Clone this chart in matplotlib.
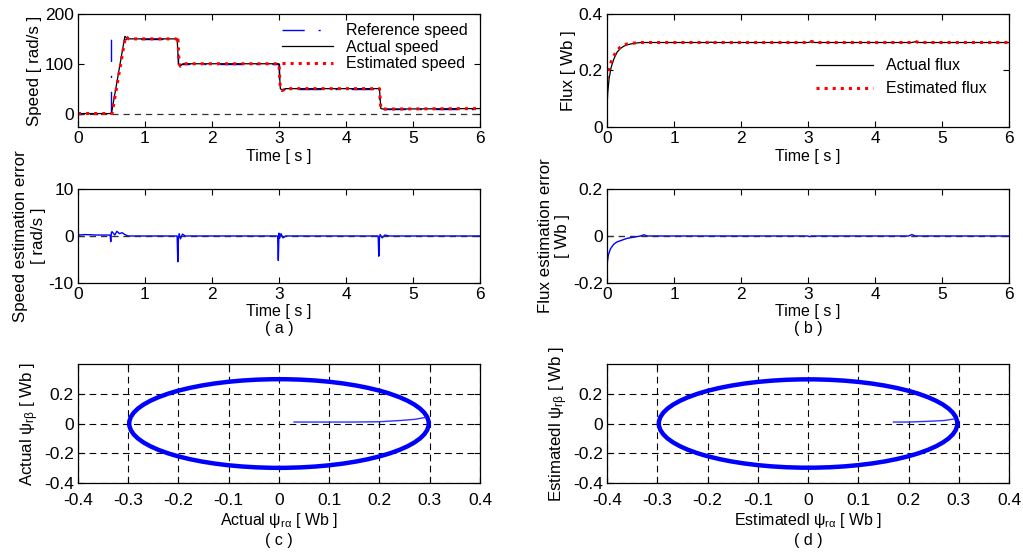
import matplotlib.pyplot as plt
import matplotlib.patches as mpatches
import numpy as np

plt.rcParams['font.family'] = ['Liberation Sans', 'DejaVu Sans']
plt.rcParams['font.size'] = 11.5
plt.rcParams['axes.unicode_minus'] = False
plt.rcParams['mathtext.fontset'] = 'custom'
plt.rcParams['mathtext.rm'] = 'Liberation Sans'
plt.rcParams['mathtext.it'] = 'Liberation Sans'

# ---- (a) speed ----
t_ref = [0, 0.5, 0.5, 1.5, 1.5, 3.0, 3.0, 4.5, 4.5, 6.0]
w_ref = [0, 0, 150, 150, 100, 100, 50, 50, 10, 10]

t_act = [0, 0.5, 0.7, 0.75, 1.48, 1.5, 1.53, 1.57, 3.0, 3.02, 3.05, 3.1, 4.5, 4.52, 4.56, 6.0]
w_act = [0, 0, 155, 150, 150, 100, 96, 100, 100, 50, 47, 50, 50, 10, 9, 10]

t_est = [0, 0.49, 0.51, 0.71, 0.76, 1.48, 1.49, 1.51, 1.53, 1.57, 2.99, 3.0, 3.02, 3.05, 3.1, 4.5, 4.52, 4.56, 6.0]
w_est = [0, 0, 1, 155, 150, 150, 155, 100, 95, 100, 100, 100, 50, 46, 50, 50, 10, 9, 10]

t_err = [0, 0.02, 0.1, 0.3, 0.48, 0.49, 0.5, 0.51, 0.55, 0.58, 0.62, 0.66, 0.7, 0.75,
         1.48, 1.49, 1.5, 1.51, 1.53, 1.56, 1.6,
         2.98, 2.99, 3.0, 3.01, 3.03, 3.06, 3.1,
         4.48, 4.49, 4.5, 4.51, 4.54, 4.58, 4.65, 6.0]
e_err = [0.6, 0.2, 0.3, 0.2, 0.2, -1.2, 0.8, 0.9, 0.2, 1.0, 0.5, 0.7, 0.3, 0,
         0, -5.5, -0.5, 0.5, -0.6, 0.4, 0,
         0, -5.2, 0.6, -0.5, 0.5, -0.4, 0,
         0, -4.3, -0.3, 0.3, -0.4, 0.2, 0, 0]

# ---- (b) flux ----
t_flux = [0, 0.01, 0.03, 0.06, 0.1, 0.15, 0.2, 0.25, 0.3, 0.4, 0.5, 1.5, 1.55, 1.6, 3.0, 3.05, 3.1, 4.55, 4.6, 4.65, 6.0]
f_act = [0.07, 0.12, 0.17, 0.21, 0.24, 0.265, 0.278, 0.286, 0.291, 0.296, 0.299, 0.299, 0.3, 0.299, 0.299, 0.302, 0.299, 0.299, 0.302, 0.299, 0.299]
f_est = [0.17, 0.19, 0.21, 0.23, 0.252, 0.272, 0.283, 0.29, 0.294, 0.297, 0.299, 0.299, 0.302, 0.299, 0.299, 0.303, 0.299, 0.299, 0.303, 0.299, 0.299]

t_ferr = [0, 0.005, 0.02, 0.05, 0.1, 0.15, 0.2, 0.25, 0.3, 0.4, 0.5, 0.55, 0.6, 3.0, 3.02, 3.05, 4.5, 4.55, 4.6, 6.0]
e_ferr = [-0.15, -0.11, -0.08, -0.055, -0.035, -0.025, -0.02, -0.015, -0.01, -0.005, 0, 0.005, 0, 0, -0.003, 0, 0, 0.006, 0, 0]

# ---- (c), (d) flux locus ----
psi_radius_act = 0.298
psi_radius_est = 0.297
init_a_act = [0.03, 0.15, 0.2, 0.24, 0.27, 0.29]
init_b_act = [0.01, 0.01, 0.012, 0.02, 0.028, 0.04]
init_a_est = [0.17, 0.2, 0.24, 0.27, 0.29]
init_b_est = [0.01, 0.01, 0.015, 0.02, 0.03]

fig = plt.figure(figsize=(10.23, 5.55), dpi=100)

L1, L2, W = 0.0762, 0.5934, 0.393
rows = [(0.7712, 0.2036), (0.4901, 0.1694), (0.1297, 0.2144)]
TICK_FS = 12.5
LAB_FS = 11.5
YLAB_FS = 12.2


def style(ax, xpad=3):
    ax.tick_params(direction='in', top=True, right=True, length=4, labelsize=TICK_FS, pad=3)
    ax.tick_params(axis='x', pad=xpad)
    for s in ax.spines.values():
        s.set_linewidth(0.9)


zero_kw = dict(color='#333333', lw=0.9, dashes=(5, 4))

# speed
ax = fig.add_axes([L1, rows[0][0], W, rows[0][1]])
ax.axhline(0, **zero_kw)
ax.plot(t_ref, w_ref, color='#0000ff', lw=1.0, linestyle=(13.4, (16, 10, 1.5, 10)), label='Reference speed')
ax.plot(t_act, w_act, color='black', lw=0.9, label='Actual speed')
ax.plot(t_est, w_est, color='red', lw=2.2, linestyle=':', label='Estimated speed')
ax.set_xlim(0, 6)
ax.set_ylim(-27, 200)
ax.set_yticks([0, 100, 200])
ax.set_xlabel('Time [ s ]', fontsize=LAB_FS, labelpad=2)
ax.set_ylabel('Speed [ rad/s ]', fontsize=YLAB_FS, labelpad=2)
leg = ax.legend(loc='upper right', frameon=False, fontsize=LAB_FS, handlelength=3.2,
                borderaxespad=0.1, labelspacing=0.1, bbox_to_anchor=(0.99, 0.99))
leg.get_lines()[0].set_linestyle((0, (16, 10, 1.5, 10)))
style(ax)

# flux
ax = fig.add_axes([L2, rows[0][0], W, rows[0][1]])
ax.plot(t_flux, f_act, color='black', lw=0.9, label='Actual flux')
ax.plot(t_flux, f_est, color='red', lw=2.2, linestyle=':', label='Estimated flux')
ax.set_xlim(0, 6)
ax.set_ylim(0, 0.4)
ax.set_yticks([0, 0.2, 0.4])
ax.set_yticklabels(['0', '0.2', '0.4'])
ax.set_xlabel('Time [ s ]', fontsize=LAB_FS, labelpad=2)
ax.set_ylabel('Flux [ Wb ]', fontsize=YLAB_FS, labelpad=2)
ax.legend(loc='center right', frameon=False, fontsize=LAB_FS, handlelength=3.6,
          labelspacing=0.5, bbox_to_anchor=(0.98, 0.44))
style(ax)

# speed error
ax = fig.add_axes([L1, rows[1][0], W, rows[1][1]])
ax.axhline(0, **zero_kw)
ax.plot(t_err, e_err, color='#0000ff', lw=1.0)
ax.axhline(0, color='#333333', lw=0.9, dashes=(5, 4), alpha=0.6)
ax.set_xlim(0, 6)
ax.set_ylim(-10, 10)
ax.set_yticks([-10, 0, 10])
ax.set_xlabel('Time [ s ]\n( a )', fontsize=LAB_FS, labelpad=1, linespacing=1.2)
ax.set_ylabel('Speed estimation error\n[ rad/s ]', fontsize=YLAB_FS, labelpad=2)
style(ax)

# flux error
ax = fig.add_axes([L2, rows[1][0], W, rows[1][1]])
ax.axhline(0, **zero_kw)
ax.plot(t_ferr, e_ferr, color='#0000ff', lw=1.0)
ax.axhline(0, color='#333333', lw=0.9, dashes=(5, 4), alpha=0.6)
ax.set_xlim(0, 6)
ax.set_ylim(-0.2, 0.2)
ax.set_yticks([-0.2, 0, 0.2])
ax.set_yticklabels(['-0.2', '0', '0.2'])
ax.set_xlabel('Time [ s ]\n( b )', fontsize=LAB_FS, labelpad=1, linespacing=1.2)
ax.set_ylabel('Flux estimation error\n[ Wb ]', fontsize=YLAB_FS, labelpad=2)
style(ax)


def locus(ax, radius, ia, ib, xlab, ylab, cap):
    ax.grid(True, color='black', lw=0.8, dashes=(6, 4))
    ax.set_axisbelow(True)
    ax.add_patch(mpatches.Circle((0.0, 0.0), radius, fill=False, ec='#0000ff', lw=3.2))
    ax.plot(ia, ib, color='#3030ff', lw=1.0)
    ax.set_xlim(-0.4, 0.4)
    ax.set_ylim(-0.4, 0.4)
    ax.set_aspect('auto')
    xt = np.round(np.arange(-0.4, 0.41, 0.1), 1)
    ax.set_xticks(xt)
    ax.set_xticklabels(['0' if v == 0 else f'{v:.1f}' for v in xt])
    ax.set_yticks([-0.4, -0.2, 0, 0.2])
    ax.set_yticklabels(['-0.4', '-0.2', '0', '0.2'])
    ax.set_xlabel(xlab + '\n' + cap, fontsize=LAB_FS, labelpad=2, linespacing=1.3)
    ax.set_ylabel(ylab, fontsize=YLAB_FS, labelpad=2)
    style(ax, xpad=7)


ax = fig.add_axes([L1, rows[2][0], W, rows[2][1]])
locus(ax, psi_radius_act, init_a_act, init_b_act,
      r'Actual $\psi_{r\alpha}$ [ Wb ]', r'Actual $\psi_{r\beta}$ [ Wb ]', '( c )')

ax = fig.add_axes([L2, rows[2][0], W, rows[2][1]])
locus(ax, psi_radius_est, init_a_est, init_b_est,
      r'Estimatedl $\psi_{r\alpha}$ [ Wb ]', r'Estimatedl $\psi_{r\beta}$ [ Wb ]', '( d )')

fig.savefig('out.png', dpi=100)
